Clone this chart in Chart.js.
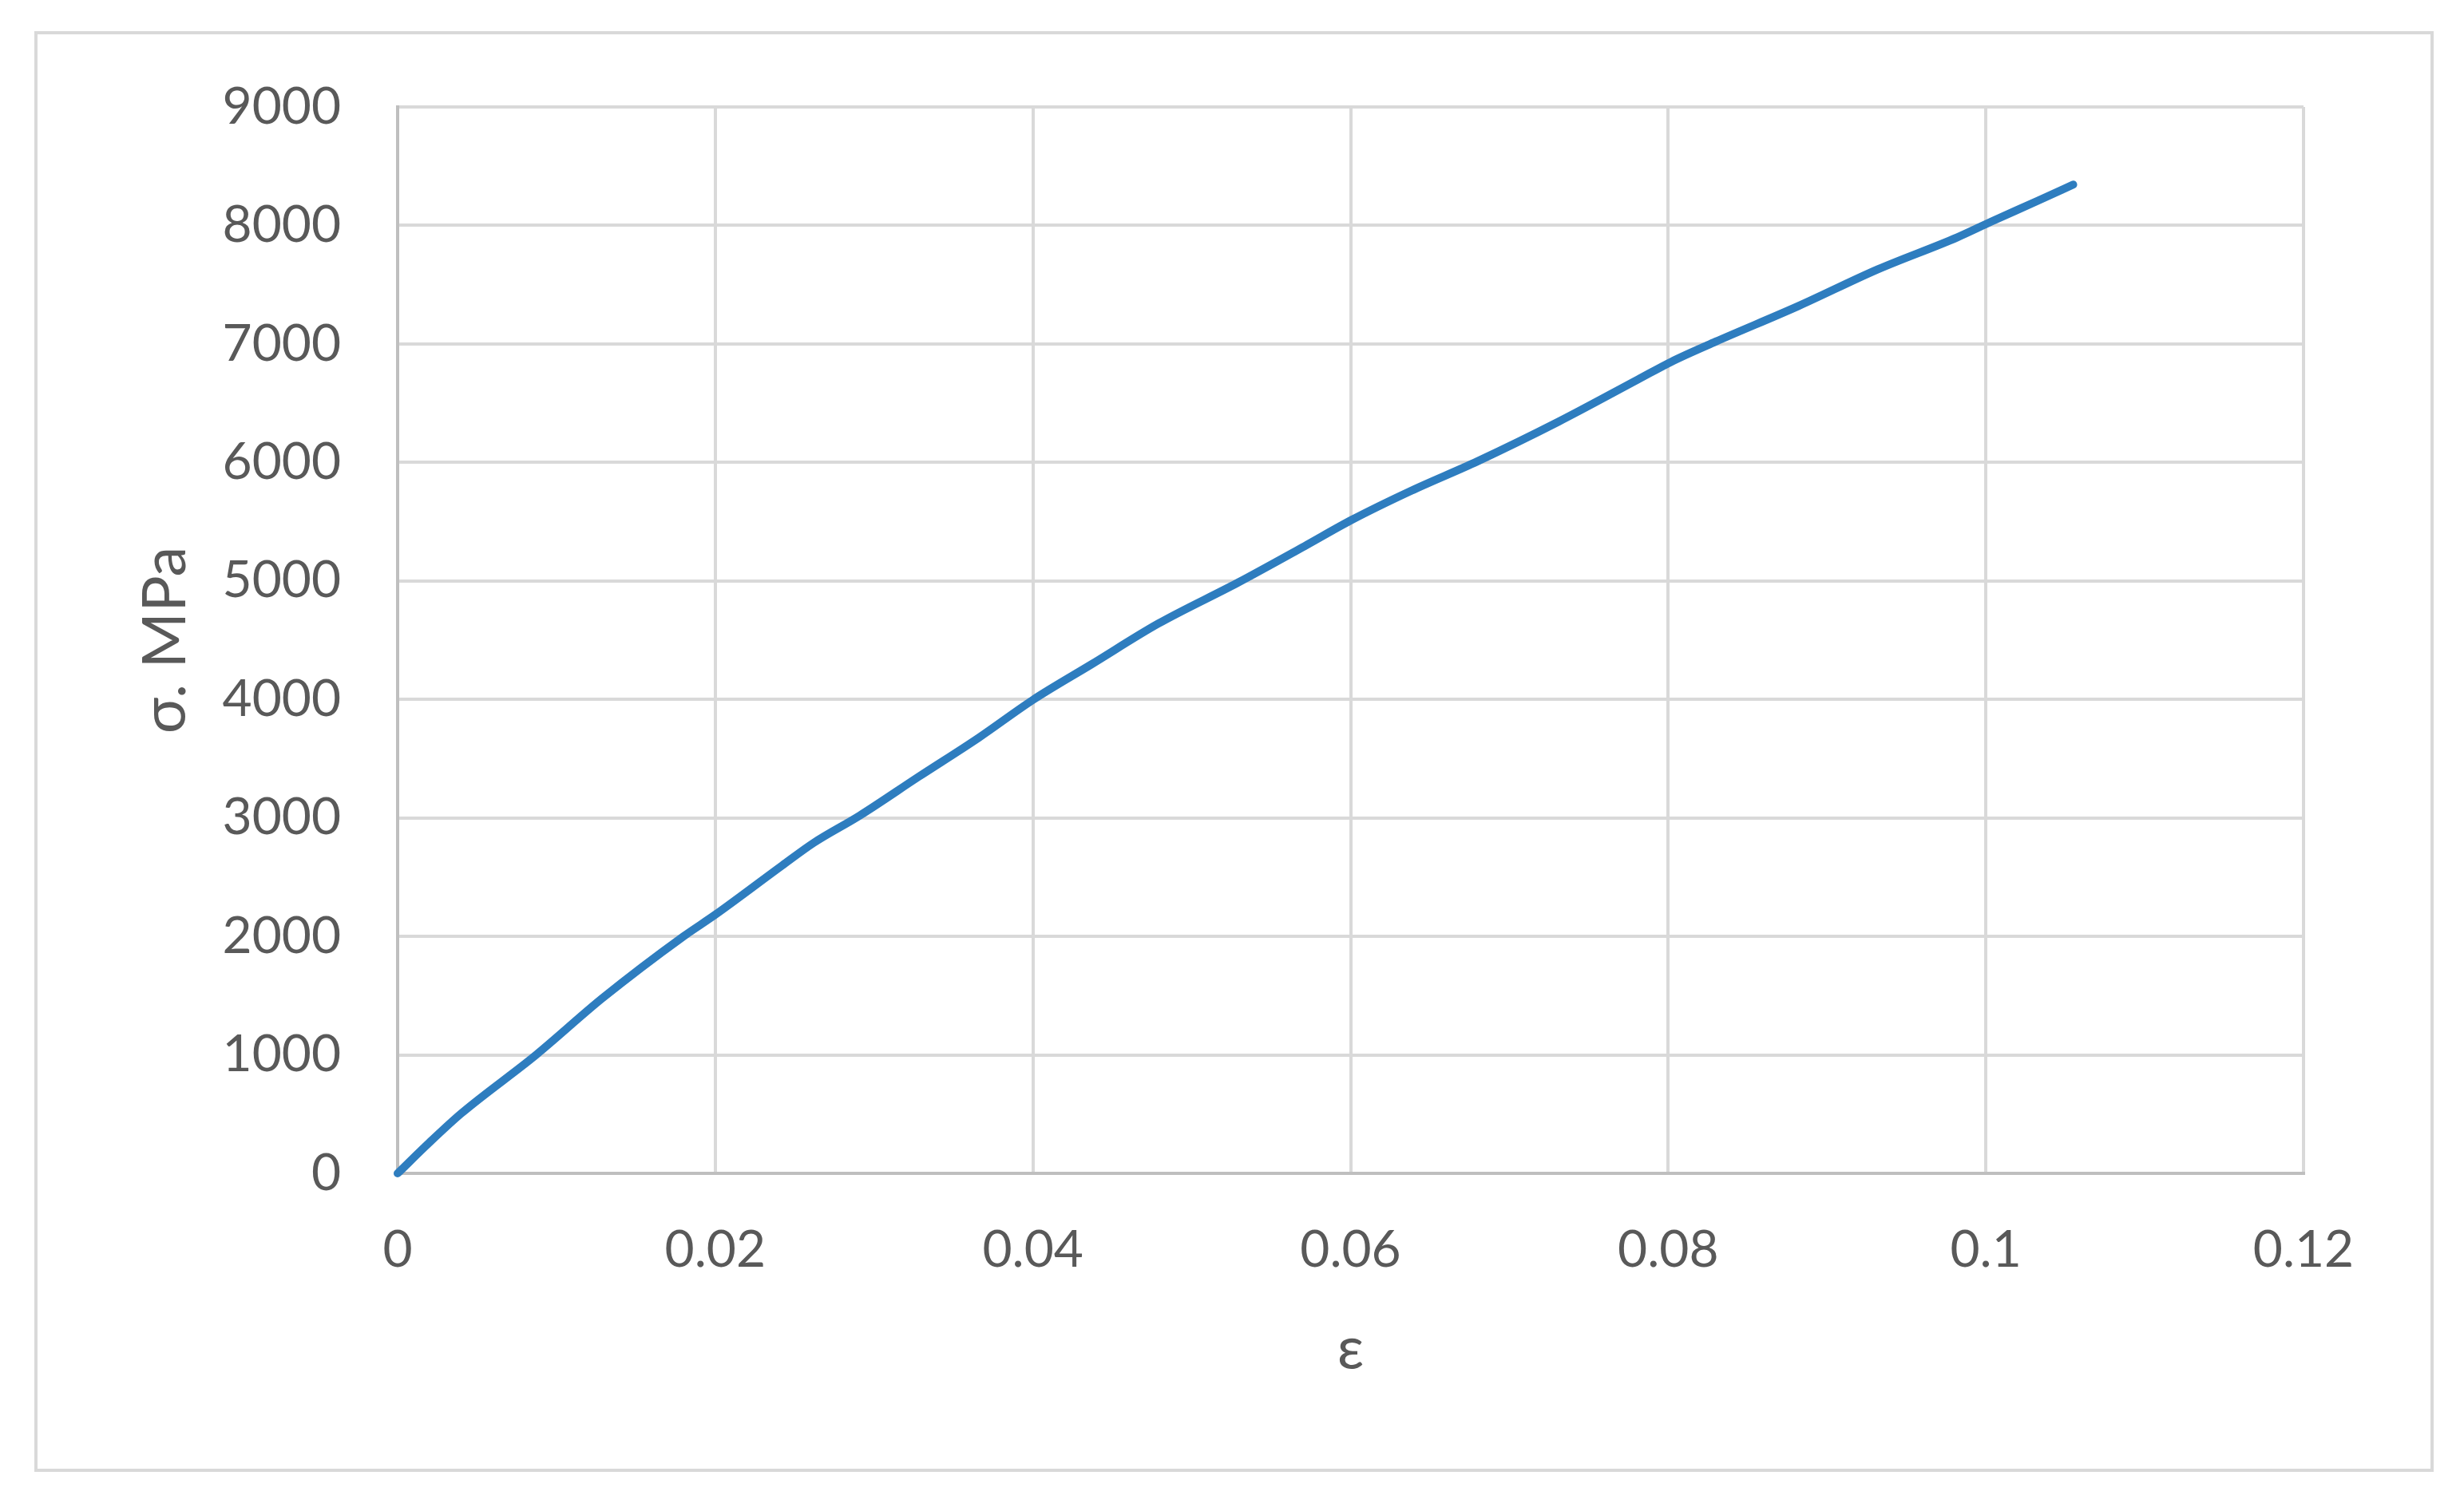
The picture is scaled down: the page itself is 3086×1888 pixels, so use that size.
<!DOCTYPE html>
<html>
<head>
<meta charset="utf-8">
<script src="https://cdn.jsdelivr.net/npm/chart.js@4.4.1/dist/chart.umd.min.js"></script>
<style>
  html, body { margin: 0; padding: 0; background: #ffffff; }
  #wrap { position: absolute; left: 0; top: 0; width: 3086px; height: 1888px; }
</style>
</head>
<body>
<div id="wrap"><canvas id="c" width="3086" height="1888"></canvas></div>
<script>
// ---- data ----
const strain = [0, 0.0020, 0.0040, 0.0087, 0.0129, 0.0180, 0.0200, 0.0242, 0.0262, 0.0291,
                0.0328, 0.0366, 0.0400, 0.0437, 0.0479, 0.0529, 0.0571, 0.0601, 0.0638, 0.0680,
                0.0731, 0.0781, 0.0802, 0.0830, 0.0882, 0.0932, 0.0982, 0.1003, 0.1033, 0.1055];
const stress = [0, 260, 505, 998, 1479, 2000, 2183, 2597, 2790, 3020,
                3347, 3678, 3996, 4297, 4640, 4985, 5293, 5517, 5760, 6010,
                6344, 6700, 6850, 7020, 7320, 7630, 7900, 8030, 8210, 8345];
const xTickLabels = ['0', '0.02', '0.04', '0.06', '0.08', '0.1', '0.12'];
const yTickLabels = ['0', '1000', '2000', '3000', '4000', '5000', '6000', '7000', '8000', '9000'];
const xTitle = 'ε';
const yTitle = 'σ. MPa';

const points = strain.map((x, i) => ({ x: x, y: stress[i] }));

const FONT = 'Lato';
const TEXT = '#595959';
const GRID = '#d9d9d9';
const AXIS = '#bfbfbf';

const frame = {
  id: 'frame',
  beforeDraw(chart) {
    const ctx = chart.ctx;
    ctx.save();
    ctx.fillStyle = '#ffffff';
    ctx.fillRect(0, 0, chart.width, chart.height);
    ctx.strokeStyle = '#d9d9d9';
    ctx.lineWidth = 4;
    ctx.strokeRect(45, 41, 3001, 1801);
    ctx.restore();
  }
};

new Chart(document.getElementById('c'), {
  type: 'line',
  data: {
    datasets: [{
      data: points,
      borderColor: '#2e7dbf',
      borderWidth: 10,
      pointRadius: 0,
      cubicInterpolationMode: 'monotone',
      borderCapStyle: 'round',
      borderJoinStyle: 'round',
      fill: false,
      clip: false
    }]
  },
  options: {
    responsive: false,
    animation: false,
    devicePixelRatio: 1,
    layout: { padding: { left: 0, top: 134, right: 201, bottom: 0 } },
    plugins: { legend: { display: false }, tooltip: { enabled: false } },
    scales: {
      x: {
        type: 'linear',
        min: 0, max: 0.12,
        afterFit(scale) { scale.height = 418; },
        afterBuildTicks(scale) {
          scale.ticks = xTickLabels.map(v => ({ value: parseFloat(v) }));
        },
        ticks: {
          padding: 58,
          color: TEXT,
          font: { family: FONT, size: 64 },
          maxRotation: 0,
          autoSkip: false,
          callback: (v, i) => xTickLabels[i]
        },
        grid: { color: GRID, lineWidth: 4, drawTicks: false },
        border: { display: true, color: AXIS, width: 4 },
        title: {
          display: true, text: xTitle, color: TEXT,
          font: { family: FONT, size: 74 },
          padding: { top: 0, bottom: 152 }
        }
      },
      y: {
        type: 'linear',
        min: 0, max: 9000,
        afterFit(scale) { scale.width = 498; },
        afterBuildTicks(scale) {
          scale.ticks = yTickLabels.map(v => ({ value: parseFloat(v) }));
        },
        ticks: {
          padding: 71,
          color: TEXT,
          font: { family: FONT, size: 64 },
          autoSkip: false,
          callback: (v, i) => yTickLabels[i]
        },
        grid: { color: GRID, lineWidth: 4, drawTicks: false },
        border: { display: true, color: AXIS, width: 4 },
        title: {
          display: true, text: yTitle, color: TEXT,
          font: { family: FONT, size: 76 },
          padding: { top: 162, bottom: 0 }
        }
      }
    }
  },
  plugins: [frame]
});
</script>
</body>
</html>
